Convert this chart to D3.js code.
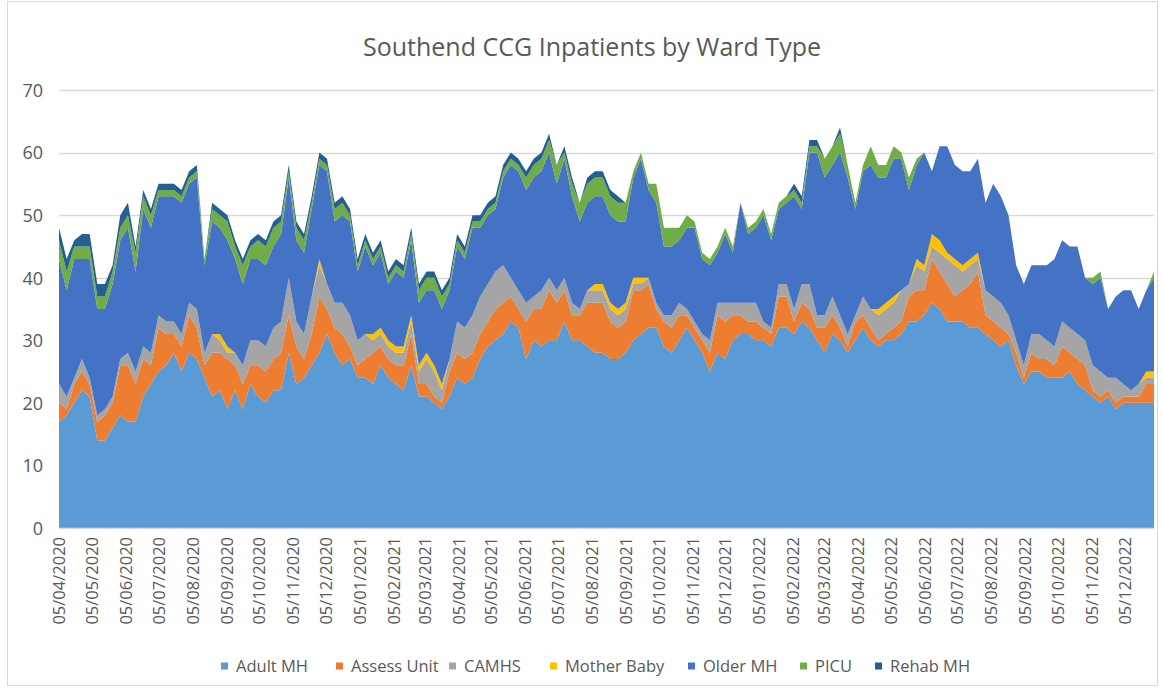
<!DOCTYPE html>
<html>
<head>
<meta charset="utf-8">
<script src="https://cdn.jsdelivr.net/npm/d3@7"></script>
<style>
  html, body { margin: 0; padding: 0; background: #ffffff; }
  svg { display: block; font-family: "Open Sans", "Noto Sans", sans-serif; }
</style>
</head>
<body>
<svg id="chart" width="1163" height="689"></svg>
<script>
// ---------- DATA ----------
const startDate = "2020-04-05";   // first weekly point
const weekCount = 144;            // weekly points

const seriesNames = ["Adult MH", "Assess Unit", "CAMHS", "Mother Baby", "Older MH", "PICU", "Rehab MH"];

const adultMH = [17,18,20,22,21,14,14,16,18,17,17,21,23,25,26,28,25,28,27,24,21,22,19,22,19,23,21,20,22,22,28,23,24,26,28,31,28,26,27,24,24,23,26,24,23,22,26,21,21,20,19,21,24,23,24,27,29,30,31,33,32,27,30,29,30,30,33,30,30,29,28,28,27,27,28,30,31,32,32,29,28,30,32,30,28,25,28,27,30,31,31,30,30,29,32,32,31,33,32,30,28,31,30,28,30,32,30,29,30,30,31,33,33,34,36,35,33,33,33,32,32,31,30,29,30,26,23,25,25,24,24,24,25,23,22,21,20,21,19,20,20,20,20,20];
const assessUnit = [3,1,3,3,2,3,4,4,8,9,6,6,3,7,5,3,4,6,5,2,7,6,8,4,4,3,5,5,5,6,6,6,3,5,9,4,4,5,2,2,3,5,3,3,3,4,5,2,2,1,1,4,4,4,4,4,4,5,5,4,3,6,5,6,8,6,5,4,4,7,8,8,6,5,5,8,7,7,3,4,4,4,2,2,2,3,6,6,4,3,2,3,2,2,5,5,2,3,3,2,4,3,2,1,3,2,2,1,1,2,2,4,5,4,7,6,6,4,5,7,9,3,3,3,1,2,1,3,2,3,2,5,3,4,4,1,1,1,1,1,1,1,3,3];
const camhs = [3,2,1,2,1,1,1,1,1,2,2,2,2,2,2,2,2,2,3,2,3,2,1,2,3,4,4,4,5,5,6,4,4,6,5,4,4,5,5,4,4,2,2,2,2,2,2,2,4,4,2,2,5,5,6,6,6,6,6,3,3,3,2,3,2,2,2,2,1,2,2,2,2,2,2,1,1,1,1,1,2,2,1,1,1,2,2,3,2,2,3,3,1,1,2,2,2,3,4,2,2,3,2,2,1,3,3,4,4,4,5,2,4,3,2,3,4,5,3,3,2,4,4,4,3,2,2,3,4,3,3,4,4,4,4,4,4,2,4,2,1,2,1,1];
const motherBaby = [0,0,0,0,0,0,0,0,0,0,0,0,0,0,0,0,0,0,0,0,0,1,1,0,0,0,0,0,0,0,0,0,0,0,1,0,0,0,0,0,0,1,1,1,1,1,1,1,1,1,1,0,0,0,0,0,0,0,0,0,0,0,0,0,0,0,0,0,0,0,1,1,1,1,1,1,1,0,0,0,0,0,0,0,0,0,0,0,0,0,0,0,0,0,0,0,0,0,0,0,0,0,0,0,0,0,0,1,1,1,0,0,1,1,2,2,1,1,1,1,1,0,0,0,0,0,0,0,0,0,0,0,0,0,0,0,0,0,0,0,0,0,1,1];
const olderMH = [20,17,19,16,19,17,16,18,19,20,16,22,20,19,20,20,21,19,21,14,18,17,17,15,13,13,13,13,13,14,16,13,13,14,15,18,13,14,15,11,14,11,12,9,12,11,12,10,10,12,12,11,12,11,14,11,11,10,14,18,19,18,19,19,20,17,19,17,14,14,14,14,14,14,13,16,19,14,16,11,11,10,13,15,12,12,8,11,8,16,11,12,17,14,12,13,18,12,21,26,22,21,26,25,17,20,23,21,20,22,21,15,15,18,10,15,17,15,15,14,15,14,18,17,16,12,13,11,11,12,14,13,13,14,10,13,15,11,13,15,16,12,13,15];
const picu = [3,3,2,2,2,2,2,2,2,2,3,2,2,1,1,1,1,1,1,1,2,2,3,2,3,2,3,3,3,2,1,2,2,1,1,1,2,2,1,1,1,1,1,1,1,1,1,2,2,2,2,1,1,1,1,1,1,1,1,1,1,2,2,2,2,3,1,2,3,3,3,3,3,3,3,1,1,1,3,3,3,2,2,1,1,1,1,1,1,0,1,1,1,1,1,1,1,1,1,1,3,3,3,2,1,1,3,2,2,2,1,2,1,0,0,0,0,0,0,0,0,0,0,0,0,0,0,0,0,0,0,0,0,0,0,1,1,0,0,0,0,0,0,1];
const rehabMH = [2,2,1,2,2,2,2,1,2,2,1,1,1,1,1,1,1,1,1,0,1,1,1,1,1,1,1,1,1,1,1,1,1,1,1,1,1,1,1,1,1,1,1,1,1,1,1,1,1,1,1,1,1,1,1,1,1,1,1,1,1,1,1,1,1,0,1,1,0,1,1,1,1,1,0,0,0,0,0,0,0,0,0,0,0,0,0,0,0,0,0,0,0,0,0,0,1,1,1,1,0,0,1,0,0,0,0,0,0,0,0,0,0,0,0,0,0,0,0,0,0,0,0,0,0,0,0,0,0,0,0,0,0,0,0,0,0,0,0,0,0,0,0,0];

const yTicks = [0, 10, 20, 30, 40, 50, 60, 70];
const title = "Southend CCG Inpatients by Ward Type";
const colors = ["#5B9BD5", "#ED7D31", "#A5A5A5", "#FFC000", "#4472C4", "#70AD47", "#255E91"];

// ---------- BUILD TABLE ----------
const parse = d3.timeParse("%Y-%m-%d");
const d0 = parse(startDate);
const dates = d3.range(weekCount).map(i => d3.timeDay.offset(d0, i * 7));
const seriesValues = [adultMH, assessUnit, camhs, motherBaby, olderMH, picu, rehabMH];
const table = dates.map((d, i) => {
  const row = { date: d };
  seriesNames.forEach((n, k) => row[n] = seriesValues[k][i]);
  return row;
});

// month ticks on the 5th
const tickDates = [];
for (let m = d3.timeMonth.floor(d0); m <= dates[dates.length - 1]; m = d3.timeMonth.offset(m, 1)) {
  const t = d3.timeDay.offset(m, 4);
  if (t >= d0 && t <= dates[dates.length - 1]) tickDates.push(t);
}

// ---------- LAYOUT ----------
const svg = d3.select("#chart");
const plot = { left: 59, right: 1154, top: 90, bottom: 528 };

svg.append("rect").attr("x", 7.5).attr("y", 1.5).attr("width", 1150).attr("height", 684)
  .attr("fill", "#fff").attr("stroke", "#d9d9d9").attr("stroke-width", 1);

const x = d3.scaleTime().domain([dates[0], dates[dates.length - 1]]).range([plot.left, plot.right]);
const y = d3.scaleLinear().domain([0, 70]).range([plot.bottom, plot.top]);

// gridlines
svg.append("g").selectAll("line").data(yTicks.filter(t => t > 0)).join("line")
  .attr("x1", plot.left).attr("x2", plot.right)
  .attr("y1", d => Math.round(y(d)) + 0.5).attr("y2", d => Math.round(y(d)) + 0.5)
  .attr("stroke", "#d9d9d9").attr("stroke-width", 1.3);

// stacked areas
const stack = d3.stack().keys(seriesNames);
const layers = stack(table);
const area = d3.area()
  .x(d => x(d.data.date))
  .y0(d => y(d[0]))
  .y1(d => y(d[1]));
svg.append("g").selectAll("path").data(layers).join("path")
  .attr("d", area)
  .attr("fill", (d, i) => colors[i]);

// baseline axis
svg.append("line").attr("x1", plot.left).attr("x2", plot.right)
  .attr("y1", plot.bottom + 0.5).attr("y2", plot.bottom + 0.5)
  .attr("stroke", "#d9d9d9").attr("stroke-width", 1.3);

// y axis labels
const yAxis = d3.axisLeft(y).tickValues(yTicks).tickSize(0).tickPadding(0);
const gy = svg.append("g").attr("transform", `translate(${43},0)`).call(yAxis);
gy.select(".domain").remove();
gy.selectAll("text").attr("font-size", 18).attr("fill", "#595959")
  .attr("font-family", '"Open Sans", sans-serif').attr("dy", "0.35em");

// x axis labels (rotated)
const fmt = d3.timeFormat("%d/%m/%Y");
const xAxis = d3.axisBottom(x).tickValues(tickDates).tickFormat(fmt).tickSize(0).tickPadding(0);
const gx = svg.append("g").attr("transform", `translate(0,${plot.bottom})`).call(xAxis);
gx.select(".domain").remove();
gx.selectAll("text")
  .attr("font-size", 16.5).attr("fill", "#595959").attr("font-family", '"Open Sans", sans-serif')
  .attr("text-anchor", "end")
  .attr("transform", "rotate(-90)")
  .attr("x", -9).attr("y", 0).attr("dy", "0.35em");

// title
svg.append("text").attr("x", 592).attr("y", 56).attr("text-anchor", "middle")
  .attr("font-size", 25).attr("fill", "#595959").text(title);

// legend
const legendX = [221, 336, 449, 550, 688, 800, 875];
const lg = svg.append("g").selectAll("g").data(seriesNames).join("g")
  .attr("transform", (d, i) => `translate(${legendX[i]},${666})`);
lg.append("rect").attr("x", 0).attr("y", -3.5).attr("width", 7).attr("height", 7)
  .attr("fill", (d, i) => colors[i]);
lg.append("text").attr("x", 15).attr("y", 0).attr("dy", "0.35em")
  .attr("font-size", 16.5).attr("fill", "#595959").text(d => d);
</script>
</body>
</html>
